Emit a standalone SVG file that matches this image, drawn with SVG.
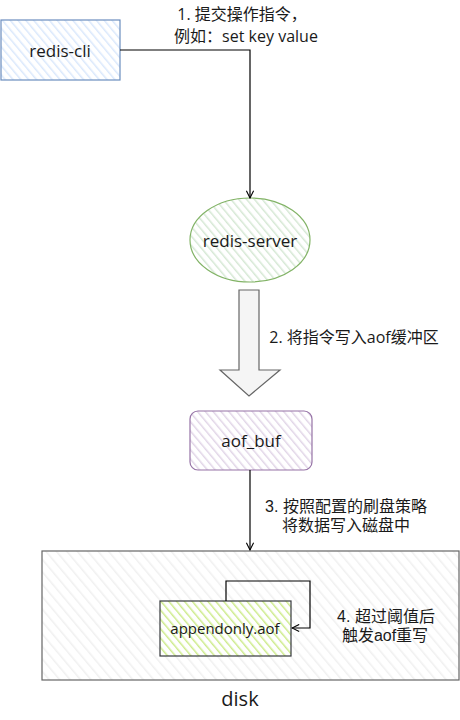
<svg xmlns="http://www.w3.org/2000/svg" width="460" height="720" viewBox="0 0 460 720">
<style>
text{font-family:"Open Sans","Noto Sans CJK SC",sans-serif;fill:#1a1a1a;text-anchor:middle;dominant-baseline:central}
.node{font-size:17px}
.lbl{font-size:16px}
.tight{font-family:"Liberation Sans","Noto Sans CJK SC",sans-serif;font-size:16px}
.edge{fill:none;stroke:#000;stroke-width:1.2}
</style>
<defs>
<pattern id="hBlue" width="6" height="6" patternUnits="userSpaceOnUse" patternTransform="rotate(-40)"><rect width="6" height="6" fill="#fff"/><line x1="0" y1="0" x2="0" y2="6" stroke="#dae8fc" stroke-width="3"/></pattern>
<pattern id="hGreen" width="6" height="6" patternUnits="userSpaceOnUse" patternTransform="rotate(-40)"><rect width="6" height="6" fill="#fff"/><line x1="0" y1="0" x2="0" y2="6" stroke="#d5e8d4" stroke-width="3"/></pattern>
<pattern id="hPurple" width="6" height="6" patternUnits="userSpaceOnUse" patternTransform="rotate(-40)"><rect width="6" height="6" fill="#fff"/><line x1="0" y1="0" x2="0" y2="6" stroke="#e1d5e7" stroke-width="3"/></pattern>
<pattern id="hLime" width="6" height="6" patternUnits="userSpaceOnUse" patternTransform="rotate(-40)"><rect width="6" height="6" fill="#fff"/><line x1="0" y1="0" x2="0" y2="6" stroke="#cdeb8b" stroke-width="3"/></pattern>
<pattern id="hGray" width="8" height="8" patternUnits="userSpaceOnUse" patternTransform="rotate(-40)"><rect width="8" height="8" fill="#fff"/><line x1="0" y1="0" x2="0" y2="8" stroke="#f0f0f0" stroke-width="3"/></pattern>
<marker id="arr" viewBox="0 0 10 10" refX="9" refY="5" markerWidth="9" markerHeight="9" orient="auto" markerUnits="userSpaceOnUse"><path d="M1,1 L9,5 L1,9" fill="none" stroke="#000" stroke-width="1.2"/></marker>
</defs>

<g id="disk">
<rect x="42" y="551" width="417" height="129" fill="url(#hGray)" stroke="#666" stroke-width="1.2"/>
<text x="240" y="698" style="font-size:20px">disk</text>
</g>

<g id="redis-cli">
<rect x="1" y="20" width="119" height="60" fill="url(#hBlue)" stroke="#6c8ebf" stroke-width="1.2"/>
<text class="node" x="60" y="50">redis-cli</text>
</g>

<g id="redis-server">
<ellipse cx="250" cy="240" rx="60" ry="42" fill="url(#hGreen)" stroke="#82b366" stroke-width="1.2"/>
<text class="node" x="250" y="240">redis-server</text>
</g>

<g id="aof_buf">
<rect x="190" y="411" width="122" height="59" rx="8" fill="url(#hPurple)" stroke="#9673a6" stroke-width="1.2"/>
<text class="node" x="251" y="440">aof_buf</text>
</g>

<g id="appendonly">
<rect x="160" y="601" width="131" height="55" fill="url(#hLime)" stroke="#36393d" stroke-width="1.2"/>
<text x="225" y="628" style="font-size:15px">appendonly.aof</text>
</g>

<g id="connectors">
<path class="edge" d="M120,50 L250,50 L250,198" marker-end="url(#arr)"/>
<path d="M239,290 L259,290 L259,370 L280,370 L249,396 L220,370 L239,370 Z" fill="#f5f5f5" stroke="#666" stroke-width="1.2"/>
<path class="edge" d="M250,470 L250,550" marker-end="url(#arr)"/>
<path class="edge" d="M226,601 L226,581 L310,581 L310,628 L292,628" marker-end="url(#arr)"/>
</g>

<g id="labels">
<text class="lbl" x="242" y="14">1. 提交操作指令，</text>
<text class="lbl" x="246" y="36">例如：set key value</text>
<text class="lbl" x="354" y="337">2. 将指令写入aof缓冲区</text>
<text class="tight" x="346" y="506">3. 按照配置的刷盘策略</text>
<text class="tight" x="346" y="525">将数据写入磁盘中</text>
<text class="tight" x="386" y="616">4. 超过阈值后</text>
<text class="tight" x="385" y="635">触发aof重写</text>
</g>
</svg>
